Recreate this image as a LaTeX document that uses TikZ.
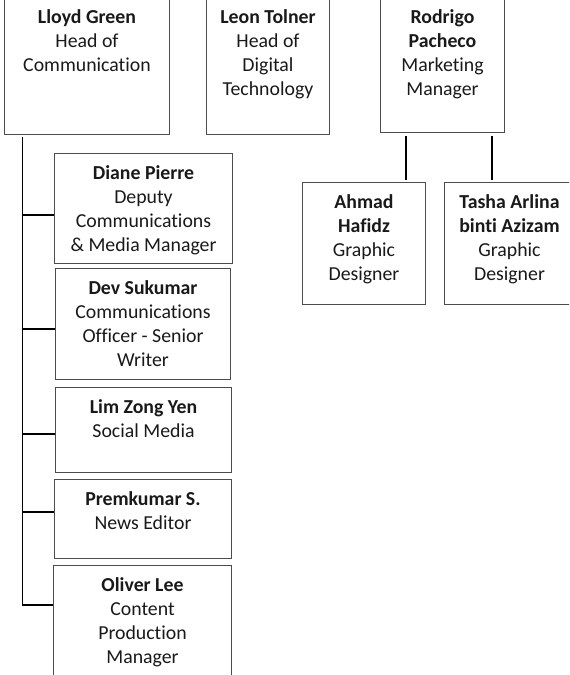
\documentclass[tikz,border=0pt]{standalone}
\usepackage{fontspec}
\setmainfont{Carlito}[Ligatures=NoCommon]
\usetikzlibrary{positioning}
\newdimen\px \px=0.75pt

\tikzset{
  staff/.style 2 args={draw=black!70, line width=0.75pt, inner sep=0pt, anchor=north west,
    font=\fontsize{14.85pt}{18pt}\selectfont, text=black!90,
    execute at begin node={\begin{minipage}[c][#2\px][t]{#1\px}\centering\rule{0pt}{25.5\px}},
    execute at end node={\end{minipage}}},
  link/.style={draw=black, line width=1.1pt}
}

\begin{document}
\begin{tikzpicture}[x=0.75pt, y=-0.75pt]
    \useasboundingbox (0,0) rectangle (569,675);
    \clip (0,0) rectangle (569,675);
    % heads
    \node[staff={165}{137}] (lloyd) at (4,-3) {\textbf{Lloyd Green}\\Head of\\Communication};
    \node[staff={123}{137}] (leon) at (206,-3) {\textbf{Leon Tolner}\\Head of\\Digital\\Technology};
    \node[staff={124}{135}] (rodrigo) at (380,-3) {\textbf{Rodrigo}\\\textbf{Pacheco}\\Marketing\\Manager};
    % marketing team
    \node[staff={123}{122}] (ahmad) at (302,182) {\textbf{Ahmad}\\\textbf{Hafidz}\\Graphic\\Designer};
    \node[staff={130}{122}] (tasha) at (444,182) {\textbf{Tasha Arlina}\\\textbf{binti Azizam}\\Graphic\\Designer};
    % communication team
    \node[staff={178}{110}] (diane) at (54,153) {\textbf{Diane Pierre}\\Deputy\\Communications\\\& Media Manager};
    \node[staff={175}{111}] (dev) at (55,268) {\textbf{Dev Sukumar}\\Communications\\Officer - Senior\\Writer};
    \node[staff={176}{85}] (lim) at (55,387) {\textbf{Lim Zong Yen}\\Social Media};
    \node[staff={177}{79}] (prem) at (54,479) {\textbf{Premkumar S.}\\News Editor};
    \node[staff={178}{125}] (oliver) at (53,565) {\textbf{Oliver Lee}\\Content\\Production\\Manager};

    \coordinate (trunk) at (22.5,137);
    \draw[link] (trunk) |- (oliver.west |- 0,605);
    \foreach \who/\yy in {diane/215, dev/329, lim/434, prem/512}
        \draw[link] (trunk |- 0,\yy) -- (\who.west |- 0,\yy);
    \draw[link, shorten <=2.25pt, shorten >=1.5pt] (rodrigo.south -| 406,0) -- (ahmad.north -| 406,0);
    \draw[link, shorten <=2.25pt, shorten >=1.5pt] (rodrigo.south -| 492,0) -- (tasha.north -| 492,0);
\end{tikzpicture}
\end{document}
